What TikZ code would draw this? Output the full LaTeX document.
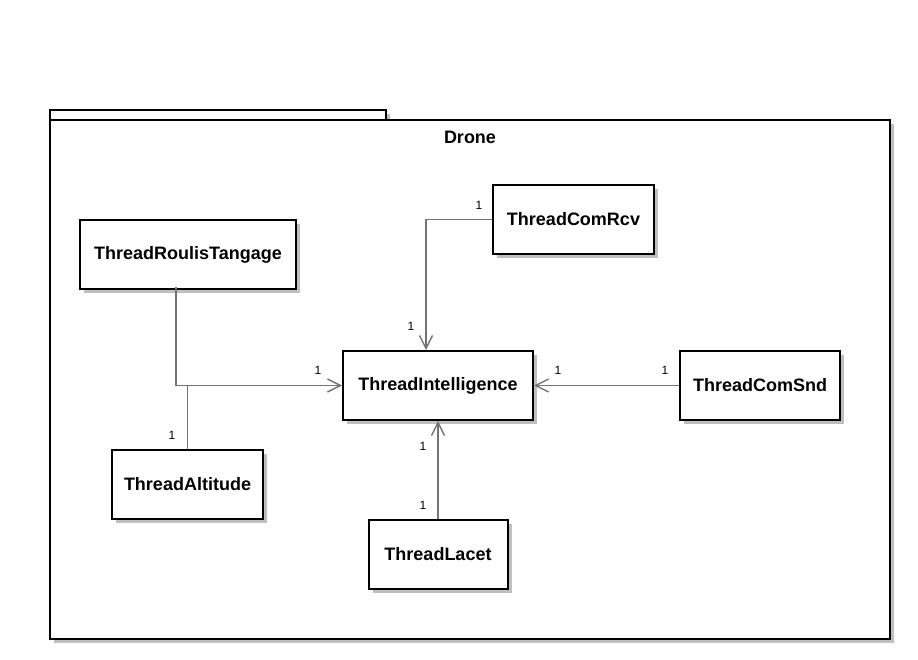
\documentclass[tikz,border=0pt]{standalone}
\usepackage{fontspec}
\setmainfont{Liberation Sans}
\usetikzlibrary{arrows.meta,shadows}

\tikzset{
  every picture/.style={line width=1pt},
  cls/.style={draw=black, line width=2pt, fill=white, font=\bfseries\fontsize{18}{21}\selectfont,
    inner sep=0pt, drop shadow={shadow xshift=4pt, shadow yshift=-4pt, fill=black!25, opacity=1}},
  assoc/.style={draw=black!55, line width=1.8pt, -{Straight Barb[length=13pt,width=13pt,line width=1.4pt]}},
  link/.style={draw=black!55, line width=1.8pt},
  mult/.style={font=\fontsize{12}{14}\selectfont, inner sep=0pt}
}

\begin{document}
\begin{tikzpicture}[x=1pt,y=-1pt]
\useasboundingbox (0,0) rectangle (918,660);

%Package Drone
\fill [black!25] (54,124) rectangle (894,643);
\fill [black!25] (386,114) rectangle (390,120);
\draw [line width=2pt, fill=white] (50,110) rectangle (386,120);
\draw [line width=2pt, fill=white] (50,120) rectangle (890,639);
\node [font=\bfseries\fontsize{18}{21}\selectfont] (drone) at (470,137) {Drone};

% Classes
\node [cls, minimum width=216pt, minimum height=69pt] (roulis) at (188,254.5) {ThreadRoulisTangage};
\node [cls, minimum width=161pt, minimum height=69pt] (rcv) at (573.5,219.5) {ThreadComRcv};
\node [cls, minimum width=190pt, minimum height=69pt] (intel) at (438,385.5) {ThreadIntelligence};
\node [cls, minimum width=160pt, minimum height=69pt] (snd) at (760,385.5) {ThreadComSnd};
\node [cls, minimum width=151pt, minimum height=69pt] (alt) at (187.5,484.5) {ThreadAltitude};
\node [cls, minimum width=139pt, minimum height=69pt] (lacet) at (438,554.5) {ThreadLacet};

% Associations
\coordinate (join) at ([xshift=-12pt]roulis.south |- intel.west);
\draw [link] ([xshift=-12pt,yshift=3pt]roulis.south) -- (join);
\draw [assoc] (join) -- (intel.west);
\draw [link] (alt.north) -- (alt.north |- intel.west);
\draw [assoc] (rcv.west) -| ([xshift=-12pt]intel.north);
\draw [assoc] (snd.west) -- (intel.east);
\draw [assoc] (lacet.north) -- (intel.south);

% Multiplicities
\node [mult] (m1) at (318,370) {1};
\node [mult] (m2) at (172,435) {1};
\node [mult] (m3) at (479,205) {1};
\node [mult] (m4) at (411,326) {1};
\node [mult] (m5) at (558,370) {1};
\node [mult] (m6) at (665,370) {1};
\node [mult] (m7) at (423,446) {1};
\node [mult] (m8) at (423,505) {1};

\end{tikzpicture}
\end{document}
